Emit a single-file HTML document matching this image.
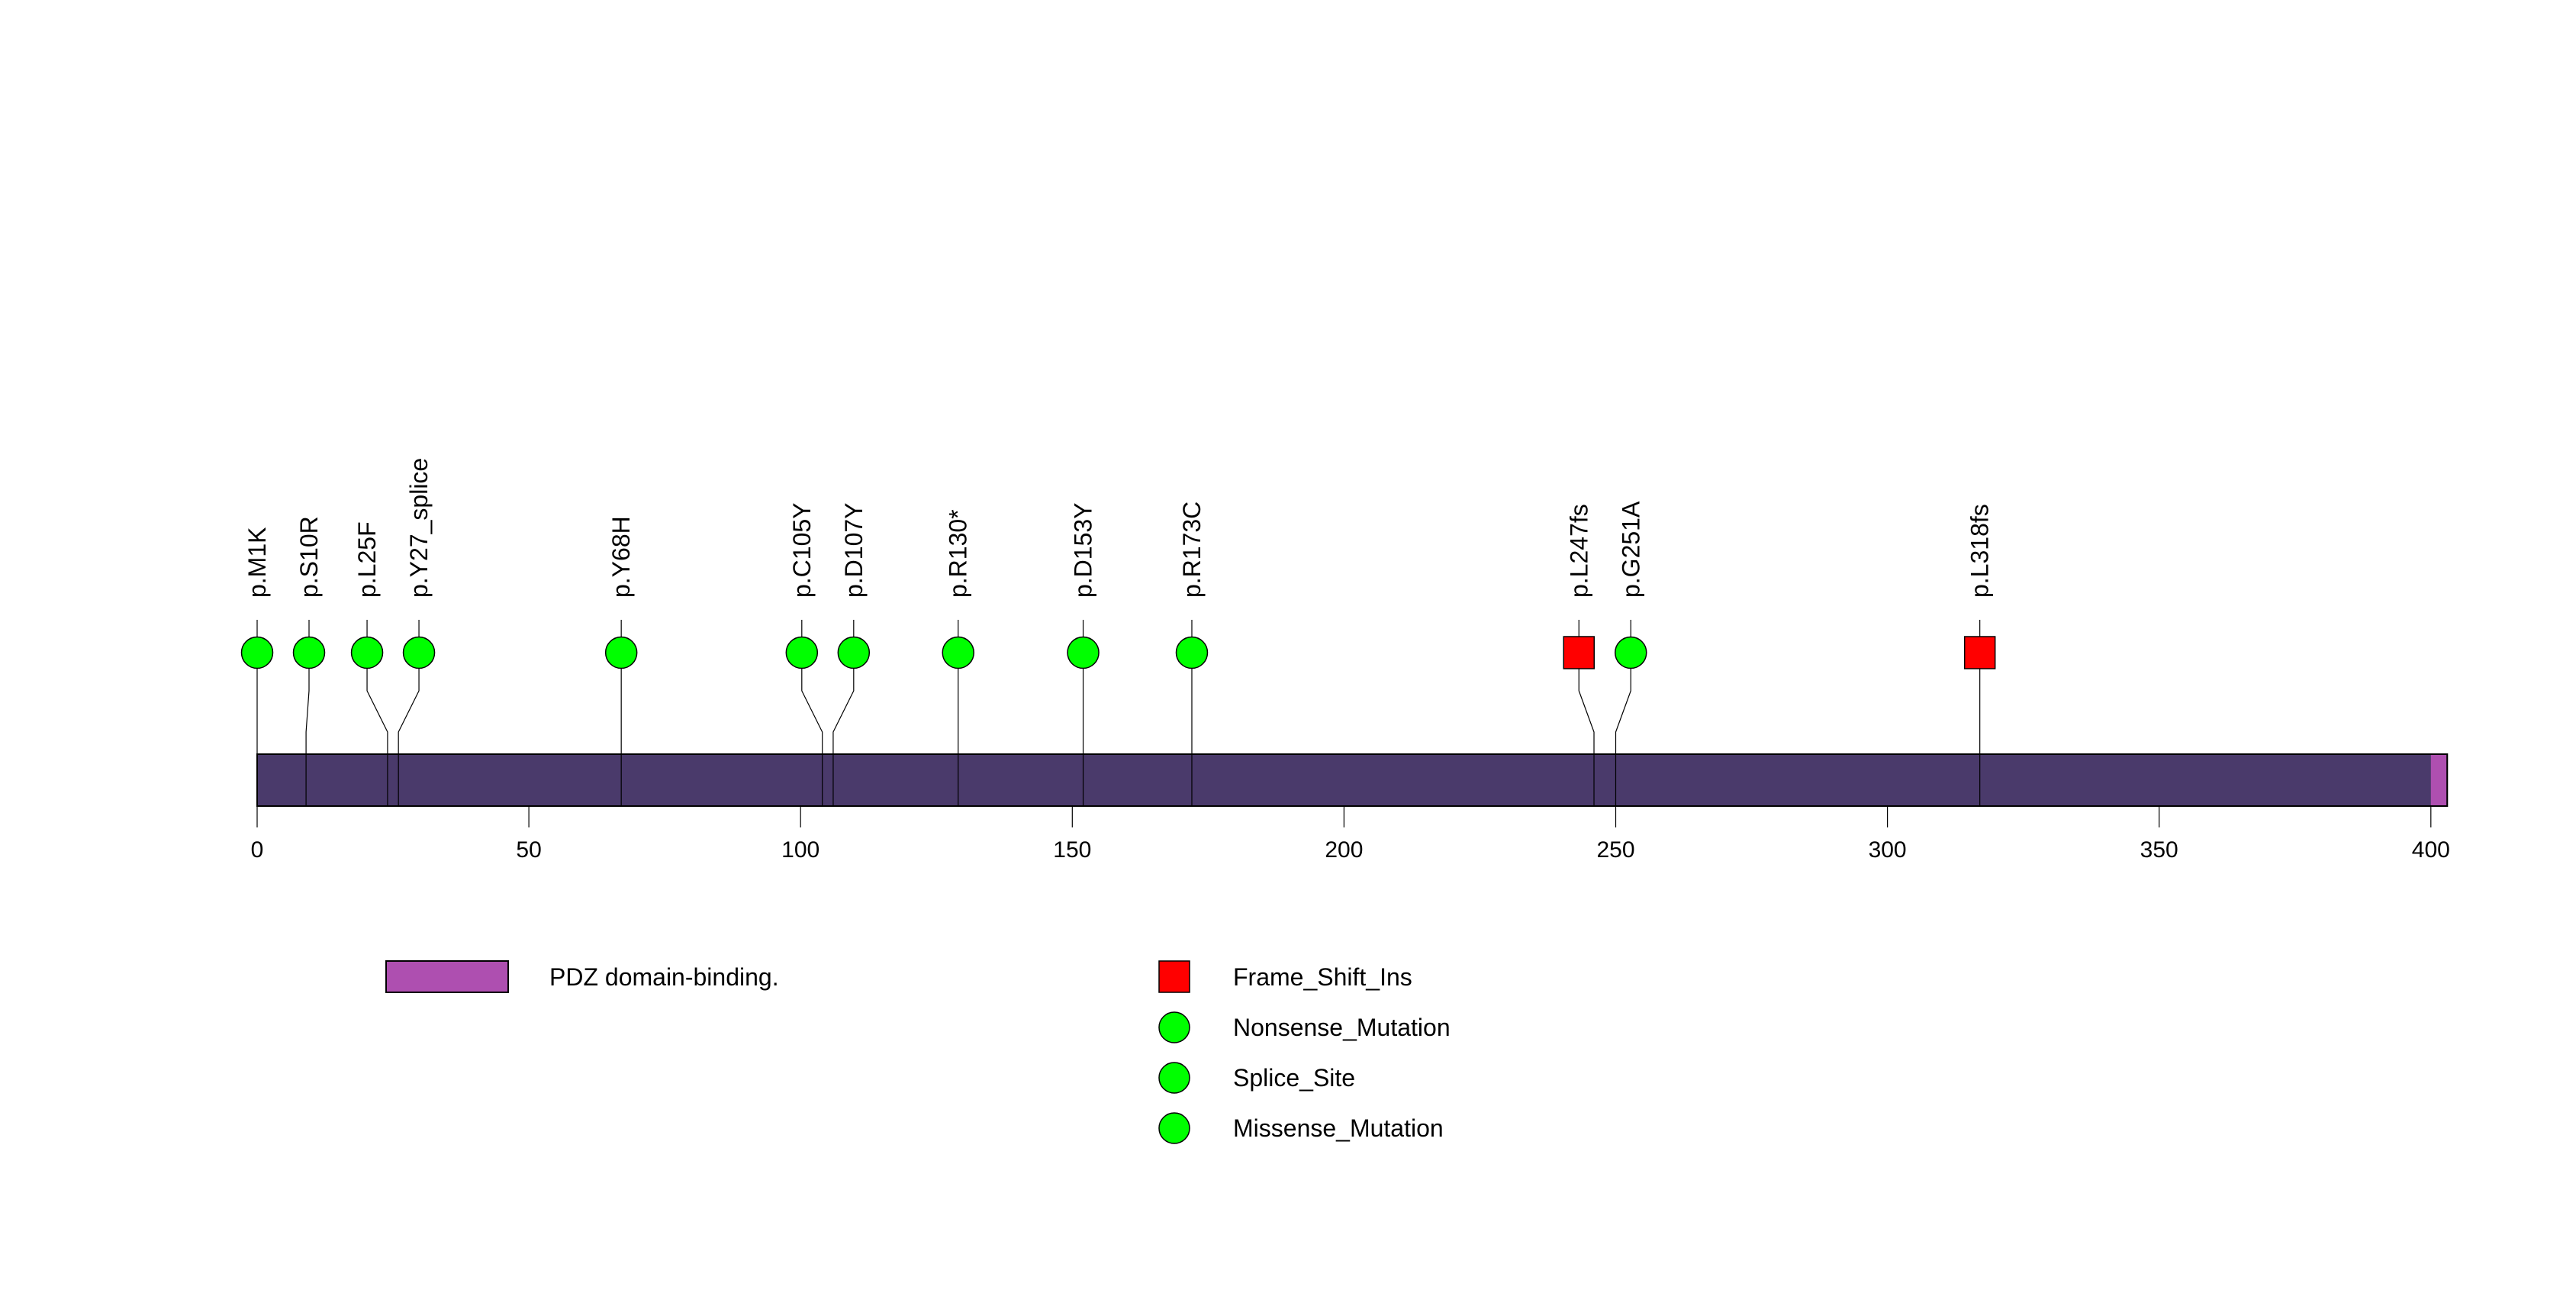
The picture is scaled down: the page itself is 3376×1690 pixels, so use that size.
<!DOCTYPE html>
<html><head><meta charset="utf-8"><style>
html,body{margin:0;padding:0;background:#fff;}
svg{display:block;font-family:"Liberation Sans",sans-serif;}
</style></head><body>
<svg id="chart" width="3376" height="1690" viewBox="0 0 3376 1690" xmlns="http://www.w3.org/2000/svg">
<rect width="3376" height="1690" fill="#fff"/>
<g id="plot"></g>
<g id="legend">
  <rect x="506" y="1259" width="160" height="41" fill="#AE4FB0" stroke="#000" stroke-width="2"/>
  <text x="720" y="1291" font-size="32">PDZ domain-binding.</text>
  <rect x="1519" y="1259" width="40" height="41" fill="#FF0000" stroke="#000" stroke-width="1.5"/>
  <text x="1616" y="1291" font-size="32">Frame_Shift_Ins</text>
  <circle cx="1539" cy="1346" r="20" fill="#00FF00" stroke="#000" stroke-width="1.5"/>
  <text x="1616" y="1357" font-size="32">Nonsense_Mutation</text>
  <circle cx="1539" cy="1412" r="20" fill="#00FF00" stroke="#000" stroke-width="1.5"/>
  <text x="1616" y="1423" font-size="32">Splice_Site</text>
  <circle cx="1539" cy="1478" r="20" fill="#00FF00" stroke="#000" stroke-width="1.5"/>
  <text x="1616" y="1489" font-size="32">Missense_Mutation</text>
</g>
</svg>
<script>
var proteinLength = 403;
var domainStart = [400];
var domainEnd = [403];
var tickValues = [0, 50, 100, 150, 200, 250, 300, 350, 400];
var tickLabels = ["0", "50", "100", "150", "200", "250", "300", "350", "400"];
var mutLabels = ["p.M1K","p.S10R","p.L25F","p.Y27_splice","p.Y68H","p.C105Y","p.D107Y","p.R130*","p.D153Y","p.R173C","p.L247fs","p.G251A","p.L318fs"];
var mutPositions = [1,10,25,27,68,105,107,130,153,173,247,251,318];
var mutTypes = ["circle","circle","circle","circle","circle","circle","circle","circle","circle","circle","square","circle","square"];

var NS = "http://www.w3.org/2000/svg";
var plot = document.getElementById('plot');
var X0 = 337, UNIT = 7.122;
function xs(v){ return X0 + v * UNIT; }
function mk(tag, attrs){
  var e = document.createElementNS(NS, tag);
  for (var k in attrs) e.setAttribute(k, attrs[k]);
  plot.appendChild(e);
  return e;
}
var barTop = 988, barBot = 1056;

// protein bar
var bar = mk('rect', {x: xs(0), y: barTop, width: xs(proteinLength) - xs(0), height: barBot - barTop, fill: '#4A3A6B', stroke: '#000', 'stroke-width': 2});


for (var d = 0; d < domainStart.length; d++) {
  var dm = mk('rect', {x: xs(domainStart[d]), y: barTop + 1, width: xs(domainEnd[d]) - xs(domainStart[d]), height: barBot - barTop - 2, fill: '#AE4FB0'});
  
  
}
mk('rect', {x: xs(0), y: barTop, width: xs(proteinLength) - xs(0), height: barBot - barTop, fill: 'none', stroke: '#000', 'stroke-width': 2});

// ticks
for (var t = 0; t < tickValues.length; t++) {
  var tx = xs(tickValues[t]);
  var tl = mk('line', {x1: tx, y1: barBot, x2: tx, y2: 1084, stroke: '#000', 'stroke-width': 1.2});
  
  
  var tt = mk('text', {x: tx, y: 1123, 'font-size': 30, 'text-anchor': 'middle'});
  tt.textContent = tickLabels[t];
  
  
}

// repel display positions
var attach = mutPositions.map(function(p){ return xs(p - 1); });
var disp = attach.slice();
var GAP = 68;
for (var it = 0; it < 200; it++) {
  for (var i = 0; i < disp.length - 1; i++) {
    var dd = disp[i+1] - disp[i];
    if (dd < GAP) { var s = (GAP - dd) / 2; disp[i] -= s; disp[i+1] += s; }
  }
  if (disp[0] < xs(0)) disp[0] = xs(0);
}

for (var m = 0; m < mutPositions.length; m++) {
  var ax = attach[m], cx = disp[m], cy = 855;
  var ln = mk('polyline', {points: cx + ',812 ' + cx + ',905 ' + ax + ',959 ' + ax + ',' + barBot, fill: 'none', stroke: '#000', 'stroke-width': 1.2});
  
  
  var mark;
  if (mutTypes[m] === 'square') {
    mark = mk('rect', {x: cx - 20, y: cy - 21, width: 40, height: 42, fill: '#FF0000', stroke: '#000', 'stroke-width': 1.5});
  } else {
    mark = mk('circle', {cx: cx, cy: cy, r: 20.5, fill: '#00FF00', stroke: '#000', 'stroke-width': 1.5});
  }
  
  
  var lb = mk('text', {x: 0, y: 0, 'font-size': 32, transform: 'translate(' + (cx + 11) + ',783) rotate(-90)'});
  lb.textContent = mutLabels[m];
  
  
}
</script>
</body></html>
